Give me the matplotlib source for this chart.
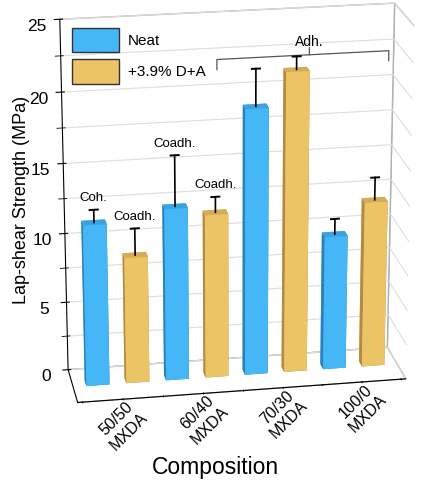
import numpy as np
import matplotlib
matplotlib.use('Agg')
import matplotlib.pyplot as plt
from matplotlib.patches import Patch

plt.rcParams['font.family'] = ['Liberation Sans', 'DejaVu Sans']

# data
groups = ['50/50\nMXDA', '60/40\nMXDA', '70/30\nMXDA', '100/0\nMXDA']
neat = [11.6, 12.4, 19.1, 9.7]
neat_err = [0.9, 3.6, 2.6, 1.1]
dpa = [9.1, 11.8, 21.5, 12.0]
dpa_err = [1.9, 1.1, 0.9, 1.6]
notes = ['Coh.', 'Coadh.', 'Coadh.', 'Coadh.']   # neat50, dpa50, neat60, dpa60

c_neat = '#45b6f6'
c_dpa = '#ebc466'
# face colours: bottom, top, front, back, left, right
faces_neat = ['#2a80bd', '#3aa2de', '#45b6f6', '#45b6f6', '#2a80bd', '#2a80bd']
faces_dpa = ['#b28a45', '#d6ac58', '#ebc466', '#ebc466', '#b28a45', '#b28a45']

fig = plt.figure(figsize=(4.3, 4.8), dpi=100)
ax = fig.add_axes([-0.066, 0.054, 1.2, 1.02], projection='3d', computed_zorder=False)

bw = 0.58     # bar width (x)
bd = 0.34     # bar depth (y)
yb = 0.93     # bar front position
ymax = 2.0

# bars
for i in range(4):
    for j, (vals, errs, fc) in enumerate([(neat, neat_err, faces_neat), (dpa, dpa_err, faces_dpa)]):
        xc = 2 * i + j + 0.5
        ax.bar3d(xc - bw / 2, yb, 0, bw, bd, vals[i], color=fc, shade=False,
                 zorder=3 + 2 * i + j)
        yc = yb + bd / 2
        top = vals[i] + errs[i]
        ax.plot([xc, xc], [yc, yc], [vals[i], top], color='black', lw=1.2, zorder=20)
        ax.plot([xc - 0.1, xc + 0.1], [yc, yc], [top, top], color='black', lw=1.4, zorder=20)

# labels over the first bars
note_x = [0.5, 1.5, 2.5, 3.5]
note_z = [neat[0] + neat_err[0], dpa[0] + dpa_err[0], neat[1] + neat_err[1], dpa[1] + dpa_err[1]]
for xx, zz, s in zip(note_x, note_z, notes):
    ax.text(xx, yb + bd / 2, zz + 0.4, s, ha='center', va='bottom', fontsize=9.5, zorder=21)

# Adh. bracket over 70/30 and 100/0
bz = 21.7
ax.plot([3.7, 3.7, 8.0, 8.0], [ymax, ymax, ymax, ymax], [bz - 0.7, bz, bz, bz - 0.7],
        color='#555555', lw=0.9, zorder=2)
ax.plot([6, 6], [ymax, ymax], [bz, bz + 0.5], color='#555555', lw=0.9, zorder=2)
ax.text(6, ymax, bz + 0.4, 'Adh.', ha='center', va='bottom', fontsize=10, zorder=2)

# axes look
ax.set_xlim(-0.12, 8.12)
ax.set_ylim(0, ymax)
ax.set_zlim(0, 25)
ax.set_box_aspect((0.673, 0.166, 0.748), zoom=1.011)
ax.view_init(elev=20, azim=-100)

for a in (ax.xaxis, ax.yaxis, ax.zaxis):
    a.set_pane_color((1, 1, 1, 1))
    a.pane.set_edgecolor('#b0b0b0')
ax.xaxis._axinfo['grid'].update(color=(1, 1, 1, 0))
ax.yaxis._axinfo['grid'].update(color=(1, 1, 1, 0))
ax.zaxis._axinfo['grid'].update(color='#dddddd', linewidth=0.8)

ax.set_xticks(np.arange(0, 9))
ax.set_xticklabels(['', groups[0], '', groups[1], '', groups[2], '', groups[3], ''],
                   rotation=45, fontsize=11.5)
ax.set_yticks([])
ax.set_zticks(np.arange(0, 26, 5))
ax.set_zticks(np.arange(2.5, 25, 5), minor=True)
ax.tick_params(axis='z', labelsize=12.5, pad=4)
ax.tick_params(axis='x', pad=-9)

fig.text(0.051, 0.583, 'Lap-shear Strength (MPa)', rotation=90, fontsize=13,
         ha='center', va='center')
fig.text(0.5, 0.027, 'Composition', fontsize=16.5, ha='center', va='center')

handles = [Patch(facecolor=c_neat, edgecolor='#333333', label='Neat'),
           Patch(facecolor=c_dpa, edgecolor='#333333', label='+3.9% D+A')]
fig.legend(handles=handles, loc='upper left', bbox_to_anchor=(0.167, 0.942), frameon=False,
           fontsize=11, handlelength=3.1, handleheight=2.1, labelspacing=0.45,
           handletextpad=0.55, borderpad=0, borderaxespad=0)

fig.savefig('out.png', dpi=100)
